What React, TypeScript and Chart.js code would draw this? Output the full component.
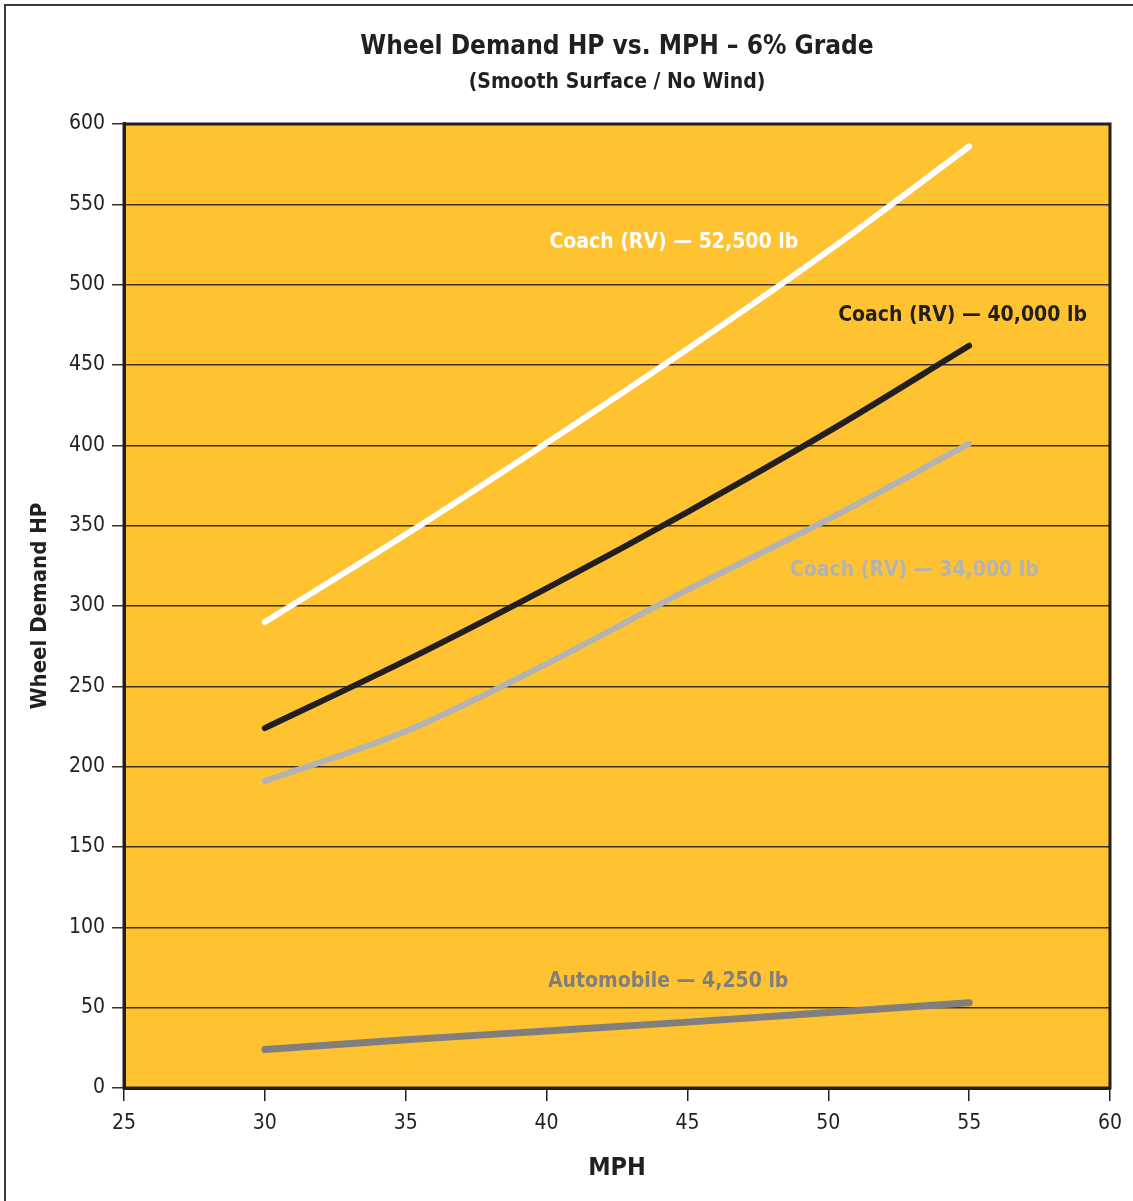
import React, { useEffect, useRef } from 'react';
import { Chart, registerables } from 'chart.js';

Chart.register(...registerables);

// ---- data ----
const mph = [30, 35, 40, 45, 50, 55];
const coach52500 = [290, 344.5, 401.5, 460, 521, 586];
const coach40000 = [224, 266, 311, 358.5, 408.5, 462];
const coach34000 = [191, 222, 264, 310, 354, 401];
const automobile = [24, 30, 35.5, 41, 47, 53];
const seriesNames = [
  'Coach (RV) — 52,500 lb',
  'Coach (RV) — 40,000 lb',
  'Coach (RV) — 34,000 lb',
  'Automobile — 4,250 lb',
];
const titleText = 'Wheel Demand HP vs. MPH – 6% Grade';
const subtitleText = '(Smooth Surface / No Wind)';
const xTitle = 'MPH';
const yTitle = 'Wheel Demand HP';

// ---- styling ----
const FONT = "'Liberation Sans Narrow', 'DejaVu Sans Condensed', 'Roboto', sans-serif";
const INK = '#231F20';
const YELLOW = '#FFC331';
const colors = ['#FFFFFF', '#231F20', '#B3B3B3', '#7F7F7F'];
const lineWidths = [6, 6, 6, 7];
// label anchors in data units (left edge, vertical middle)
const labelAnchorX = [40.1, 50.35, 48.64, 40.05];
const labelAnchorY = [526.5, 480.5, 321.8, 66];

const seriesValues = [coach52500, coach40000, coach34000, automobile];

const areaPlugin = {
  id: 'areaPlugin',
  beforeDraw(chart: any) {
    const { ctx, chartArea: a } = chart;
    ctx.save();
    ctx.fillStyle = YELLOW;
    ctx.fillRect(a.left, a.top, a.right - a.left, a.bottom - a.top);
    ctx.restore();
  },
  afterDatasetsDraw(chart: any) {
    const { ctx, chartArea: a, scales } = chart;
    ctx.save();
    ctx.strokeStyle = INK;
    ctx.lineWidth = 3;
    ctx.strokeRect(a.left, a.top, a.right - a.left, a.bottom - a.top);
    ctx.font = `bold 21px ${FONT}`;
    ctx.textAlign = 'left';
    ctx.textBaseline = 'middle';
    seriesNames.forEach((name, i) => {
      ctx.fillStyle = colors[i];
      ctx.fillText(name, scales.x.getPixelForValue(labelAnchorX[i]), scales.y.getPixelForValue(labelAnchorY[i]));
    });
    ctx.restore();
  },
};

export default function App() {
  const ref = useRef<HTMLCanvasElement | null>(null);
  useEffect(() => {
    if (!ref.current) return;
    const chart = new Chart(ref.current, {
      type: 'line',
      data: {
        datasets: seriesValues.map((vals, i) => ({
          label: seriesNames[i],
          data: mph.map((m, j) => ({ x: m, y: vals[j] })),
          borderColor: colors[i],
          borderWidth: lineWidths[i],
          borderCapStyle: 'round',
          borderJoinStyle: 'round',
          pointRadius: 0,
          tension: 0.4,
          cubicInterpolationMode: 'monotone',
          fill: false,
        })),
      },
      options: {
        animation: false,
        responsive: false,
        devicePixelRatio: 1,
        layout: { padding: { left: 0, right: 23, top: 0, bottom: 0 } },
        plugins: {
          legend: { display: false },
          tooltip: { enabled: false },
          title: {
            display: true,
            text: titleText,
            fullSize: false,
            color: INK,
            font: { family: FONT, size: 26, weight: 'bold', lineHeight: 1.2 },
            padding: { top: 31.4, bottom: 0 },
          },
          subtitle: {
            display: true,
            text: subtitleText,
            fullSize: false,
            color: INK,
            font: { family: FONT, size: 21, weight: 'bold', lineHeight: 1.2 },
            padding: { top: 7.8, bottom: 28.4 },
          },
        },
        scales: {
          x: {
            type: 'linear',
            min: 25,
            max: 60,
            ticks: { stepSize: 5, color: INK, padding: 10, font: { family: FONT, size: 21 } },
            grid: { drawOnChartArea: false, drawTicks: true, tickLength: 13, color: INK, lineWidth: 1.5 },
            border: { display: true, color: INK, width: 3 },
            title: {
              display: true,
              text: xTitle,
              color: INK,
              font: { family: FONT, size: 25, weight: 'bold', lineHeight: 1.2 },
              padding: { top: 0, bottom: 18 },
            },
            afterFit(scale: any) { scale.height = 113; },
          },
          y: {
            min: 0,
            max: 600,
            ticks: { stepSize: 50, color: INK, padding: 7, font: { family: FONT, size: 21 } },
            grid: { color: '#3A3323', lineWidth: 1.5, tickLength: 12, drawTicks: true },
            border: { display: true, color: INK, width: 3 },
            title: {
              display: true,
              text: yTitle,
              color: INK,
              font: { family: FONT, size: 22, weight: 'bold', lineHeight: 1.2 },
              padding: { top: 26.8, bottom: 0 },
            },
            afterFit(scale: any) { scale.width = 124; },
          },
        },
      },
      plugins: [areaPlugin],
    } as any);
    return () => chart.destroy();
  }, []);

  return (
    <div style={{ position: 'absolute', left: 0, top: 0, width: 1133, height: 1201, overflow: 'hidden', background: '#fff' }}>
      <div style={{ position: 'absolute', left: 4, top: 4, width: 1200, height: 1300, borderTop: '2px solid #3a3a3a', borderLeft: '2px solid #3a3a3a' }} />
      <canvas ref={ref} width={1133} height={1201} style={{ position: 'absolute', left: 0, top: 0, width: 1133, height: 1201 }} />
    </div>
  );
}
